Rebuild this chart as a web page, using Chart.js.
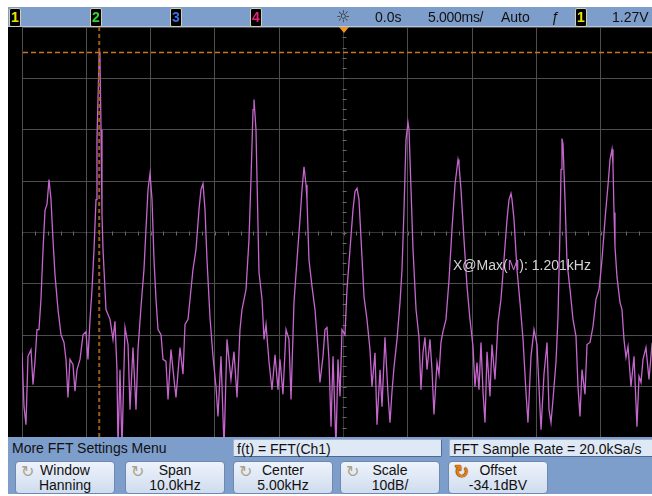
<!DOCTYPE html>
<html>
<head>
<meta charset="utf-8">
<script src="https://cdn.jsdelivr.net/npm/chart.js@4.4.1/dist/chart.umd.min.js"></script>
<style>
    body { margin: 0; background: #fff; }
    #scope { position: relative; width: 652px; height: 496px; overflow: hidden; background: #fff;
        font-family: "Liberation Sans", Arial, sans-serif; color: #111; }
    #topbar { position: absolute; left: 8px; top: 7px; width: 644px; height: 19px; background: #7d9dcb;
        border-bottom: 1px solid #b4c6e2; z-index: 3; }
    #screen { position: absolute; left: 8px; top: 27px; width: 644px; height: 410px; background: #000; }
    #plot { position: absolute; left: 12px; top: 17px; width: 663px; height: 431px; z-index: 1; }
    #menu { position: absolute; left: 8px; top: 437px; width: 644px; height: 57px; background: #7d9dcb; z-index: 3; }
    .tb { position: absolute; top: 7px; height: 20px; line-height: 20px; font-size: 14px; color: #111; z-index: 4; white-space: nowrap; }
    .chan { position: absolute; top: 8px; width: 10px; height: 17px; background: #000; border: 1px solid #cfcfb8;
        border-radius: 2px; font: bold 14px/17px "Liberation Sans", Arial, sans-serif; text-align: center; z-index: 4; }
    #trig { position: absolute; left: 339px; top: 27px; width: 0; height: 0; border-left: 5px solid transparent;
        border-right: 5px solid transparent; border-top: 6px solid #f0921e; z-index: 4; }
    #readout { position: absolute; left: 453px; top: 257px; font-size: 14px; color: #d4d4d4; z-index: 2; white-space: nowrap; }
    #readout span { color: #c46ccf; }
    .row { position: absolute; top: 439px; height: 18px; line-height: 18px; font-size: 14px; z-index: 4; white-space: nowrap; }
    .field { background: #dfe8f5; border: 1px solid #9fb2cf; border-right-color: #4f6891; border-bottom-color: #4f6891;
        border-radius: 2px; padding-left: 3px; box-sizing: border-box; }
    .key { position: absolute; top: 461px; width: 100px; height: 33px; box-sizing: border-box; z-index: 4;
        background: linear-gradient(#eef3fb, #cfdcef); border: 1px solid #6f88b0; border-radius: 4px;
        text-align: center; font-size: 14px; line-height: 15px; padding-top: 1px; }
    .key .ico { position: absolute; left: 5px; top: 0; font: 16px "DejaVu Sans", sans-serif; color: #aaa286; }
    .key .ico.on { font-weight: bold; font-size: 18px; color: #ec7d08; top: -1px;
        text-shadow: 0 0 1px #5a3000, 0 0 1px #5a3000; }
</style>
</head>
<body>
<div id="scope">
    <div id="topbar"></div>
    <div class="chan" style="left:9px;color:#e9e400;">1</div>
    <div class="chan" style="left:90px;color:#34d234;">2</div>
    <div class="chan" style="left:170px;color:#3b6fe6;">3</div>
    <div class="chan" style="left:250px;color:#e4207c;">4</div>
    <div class="tb" style="left:336px;font:16px/20px 'DejaVu Sans',sans-serif;color:#333;">☼</div>
    <div class="tb" style="left:375px;">0.0s</div>
    <div class="tb" style="left:428px;letter-spacing:-0.3px;">5.000ms/</div>
    <div class="tb" style="left:501px;">Auto</div>
    <div class="tb" style="left:551px;font-style:italic;">ƒ</div>
    <div class="chan" style="left:575px;color:#e9e400;">1</div>
    <div class="tb" style="left:612px;">1.27V</div>

    <div id="screen"></div>
    <div id="trig"></div>
    <div id="plot"><canvas id="fft"></canvas></div>
    <div id="readout"></div>

    <div id="menu"></div>
    <div class="row" style="left:12px;">More FFT Settings Menu</div>
    <div class="row field" style="left:233px;width:209px;">f(t) = FFT(Ch1)</div>
    <div class="row field" style="left:449px;width:220px;">FFT Sample Rate = 20.0kSa/s</div>

    <div class="key" style="left:15px;"><span class="ico">↻</span>Window<br>Hanning</div>
    <div class="key" style="left:125px;"><span class="ico">↻</span>Span<br>10.0kHz</div>
    <div class="key" style="left:233px;"><span class="ico">↻</span>Center<br>5.00kHz</div>
    <div class="key" style="left:340px;"><span class="ico">↻</span>Scale<br>10dB/</div>
    <div class="key" style="left:448px;"><span class="ico on">↻</span>Offset<br>-34.1dBV</div>
</div>
<script>
// FFT settings, as set on the softkeys
var centerKHz = 5.00;
var spanKHz = 10.0;
var scaleDB = 10;
var offsetDBV = -34.1;

// marker found by the X@Max measurement
var markerKHz = 1.201;

// spectrum trace: frequency (kHz) and magnitude (dBV)
var freqKHz = [
    0.000, 0.031, 0.062, 0.093, 0.140, 0.171, 0.202, 0.233, 0.264, 0.295,
    0.327, 0.358, 0.389, 0.420, 0.451, 0.482, 0.513, 0.560, 0.607, 0.653,
    0.684, 0.715, 0.746, 0.793, 0.824, 0.855, 0.902, 0.949, 0.995, 1.026,
    1.058, 1.089, 1.120, 1.151, 1.166, 1.201, 1.213, 1.229, 1.244, 1.260,
    1.306, 1.369, 1.415, 1.446, 1.477, 1.493, 1.524, 1.555, 1.602, 1.649,
    1.680, 1.726, 1.773, 1.804, 1.851, 1.897, 1.928, 1.960, 1.991, 2.022,
    2.053, 2.084, 2.115, 2.162, 2.193, 2.239, 2.271, 2.317, 2.364, 2.395,
    2.457, 2.504, 2.535, 2.582, 2.613, 2.659, 2.706, 2.753, 2.784, 2.815,
    2.846, 2.877, 2.924, 2.970, 3.017, 3.048, 3.095, 3.142, 3.188, 3.250,
    3.297, 3.344, 3.390, 3.421, 3.484, 3.530, 3.561, 3.593, 3.608, 3.639,
    3.655, 3.686, 3.733, 3.764, 3.795, 3.841, 3.888, 3.935, 3.981, 4.012,
    4.059, 4.106, 4.152, 4.184, 4.230, 4.277, 4.323, 4.355, 4.386, 4.417,
    4.432, 4.463, 4.510, 4.557, 4.603, 4.634, 4.681, 4.712, 4.743, 4.774,
    4.806, 4.837, 4.883, 4.914, 4.946, 4.977, 5.023, 5.054, 5.101, 5.148,
    5.179, 5.210, 5.241, 5.257, 5.288, 5.319, 5.365, 5.412, 5.443, 5.490,
    5.521, 5.568, 5.599, 5.645, 5.692, 5.723, 5.754, 5.785, 5.832, 5.879,
    5.910, 5.941, 5.972, 6.003, 6.019, 6.050, 6.081, 6.128, 6.174, 6.205,
    6.236, 6.267, 6.299, 6.345, 6.376, 6.407, 6.454, 6.485, 6.516, 6.547,
    6.594, 6.641, 6.687, 6.734, 6.781, 6.796, 6.827, 6.874, 6.921, 6.967,
    7.014, 7.045, 7.076, 7.107, 7.138, 7.170, 7.201, 7.232, 7.278, 7.309,
    7.356, 7.403, 7.449, 7.496, 7.543, 7.574, 7.605, 7.621, 7.652, 7.698,
    7.745, 7.792, 7.838, 7.869, 7.916, 7.963, 8.009, 8.040, 8.072, 8.118,
    8.165, 8.196, 8.227, 8.258, 8.305, 8.336, 8.367, 8.383, 8.398, 8.414,
    8.445, 8.476, 8.523, 8.569, 8.616, 8.647, 8.678, 8.709, 8.756, 8.787,
    8.834, 8.880, 8.927, 8.974, 9.020, 9.067, 9.114, 9.145, 9.176, 9.191,
    9.207, 9.222, 9.253, 9.300, 9.331, 9.362, 9.393, 9.425, 9.471, 9.518,
    9.564, 9.596, 9.627, 9.658, 9.704, 9.751, 9.798, 9.922
];
var magDBV = [
    -57.5, -68.0, -71.5, -58.2, -56.9, -63.7, -59.2, -53.0, -53.0, -47.1,
    -37.4, -29.8, -28.6, -23.8, -27.7, -35.5, -42.3, -49.1, -54.0, -55.5,
    -58.8, -66.2, -58.8, -59.8, -65.0, -60.8, -58.8, -54.0, -53.4, -58.8,
    -51.0, -45.2, -37.4, -27.7, -16.0, 1.1, -0.4, -14.1, -30.6, -37.4,
    -49.1, -51.0, -54.9, -51.4, -60.8, -76.0, -60.8, -76.0, -52.6, -55.9,
    -68.6, -56.5, -68.6, -56.9, -48.5, -41.3, -33.5, -25.7, -22.6, -27.7,
    -39.4, -47.1, -53.0, -54.0, -58.8, -59.2, -66.6, -56.9, -62.7, -66.2,
    -56.5, -61.7, -52.0, -51.0, -47.1, -41.3, -37.4, -29.6, -25.7, -24.6,
    -29.6, -39.4, -50.7, -58.2, -64.1, -69.9, -58.2, -76.0, -54.9, -62.7,
    -57.3, -66.2, -53.0, -49.1, -45.2, -35.5, -23.8, -10.2, -8.2, -14.1,
    -23.8, -41.9, -47.1, -54.9, -52.0, -59.2, -64.7, -57.9, -64.7, -58.8,
    -65.6, -53.0, -54.9, -66.6, -47.7, -39.4, -31.6, -25.7, -21.3, -24.8,
    -27.7, -39.4, -44.6, -49.1, -56.9, -63.3, -58.2, -53.0, -52.6, -58.8,
    -71.9, -58.2, -76.0, -58.8, -66.0, -53.0, -54.0, -45.2, -37.4, -29.6,
    -26.1, -25.5, -27.7, -31.6, -39.0, -46.6, -51.0, -56.9, -64.1, -57.5,
    -71.5, -60.8, -68.0, -54.5, -65.6, -71.1, -65.1, -60.4, -54.9, -47.7,
    -41.3, -29.6, -16.0, -12.7, -14.1, -25.7, -37.4, -49.1, -54.5, -64.7,
    -57.5, -54.5, -60.8, -54.9, -60.8, -69.5, -59.4, -61.7, -55.5, -53.4,
    -51.0, -43.3, -33.5, -24.8, -19.9, -20.9, -25.7, -35.5, -44.6, -51.0,
    -56.3, -64.1, -59.4, -64.7, -55.5, -65.2, -71.1, -57.3, -66.0, -55.9,
    -62.7, -51.6, -47.1, -39.4, -31.6, -27.7, -26.5, -27.7, -31.6, -41.3,
    -47.7, -54.9, -65.2, -71.1, -58.2, -53.0, -55.9, -64.1, -72.5, -61.7,
    -55.5, -68.6, -71.1, -66.6, -59.2, -50.5, -33.5, -21.8, -15.8, -17.0,
    -27.7, -39.9, -45.2, -51.0, -54.3, -64.1, -69.9, -60.8, -65.6, -55.9,
    -55.5, -52.4, -47.1, -45.2, -39.4, -31.6, -24.8, -19.9, -17.9, -20.9,
    -30.2, -36.8, -42.7, -47.7, -49.1, -54.9, -58.4, -56.3, -64.1, -58.2,
    -71.9, -62.1, -63.3, -58.8, -56.5, -62.7, -55.9, -58.8
];

// graticule: 10 divisions across the span, 8 divisions of scaleDB
var xMin = centerKHz - spanKHz / 2;
var xMax = centerKHz + spanKHz / 2;
var yMin = offsetDBV - 4 * scaleDB;
var yMax = offsetDBV + 4 * scaleDB;
var xGrid = [];
var yGrid = [];
for (var i = 0; i <= 10; i++) {
    xGrid.push(xMin + i * spanKHz / 10);
}
for (var j = -4; j <= 4; j++) {
    yGrid.push(offsetDBV + j * scaleDB);
}
var peakDBV = Math.max.apply(null, magDBV);

/**
 * Grid colour, the centre lines are drawn a bit darker.
 * @param {Number} value Tick value
 * @param {Number} centre Centre value of the axis
 * @return {String}
 */
function gridColor(value, centre) {
    return Math.abs(value - centre) < 1e-6 ? '#343434' : '#4e4e4e';
}

// minor ticks on the centre lines and the two dashed marker cursors
var scopeOverlay = {
    id: 'scopeOverlay',
    beforeDatasetsDraw: function(chart) {
        var ctx = chart.ctx;
        var xs = chart.scales.x;
        var ys = chart.scales.y;
        var cx = Math.round(xs.getPixelForValue(centerKHz)) + 0.5;
        var cy = Math.round(ys.getPixelForValue(offsetDBV)) + 0.5;
        var k, p;
        ctx.save();
        ctx.strokeStyle = '#6a6a6a';
        ctx.lineWidth = 1;
        ctx.beginPath();
        for (k = xMin; k <= xMax + 1e-6; k += spanKHz / 50) {
            p = Math.round(xs.getPixelForValue(k)) + 0.5;
            ctx.moveTo(p, cy - 2);
            ctx.lineTo(p, cy + 2);
        }
        for (k = yMin; k <= yMax + 1e-6; k += scaleDB / 5) {
            p = Math.round(ys.getPixelForValue(k)) + 0.5;
            ctx.moveTo(cx - 2, p);
            ctx.lineTo(cx + 2, p);
        }
        ctx.stroke();
        ctx.restore();
    },
    afterDatasetsDraw: function(chart) {
        var ctx = chart.ctx;
        var area = chart.chartArea;
        var mx = chart.scales.x.getPixelForValue(markerKHz);
        var my = Math.round(chart.scales.y.getPixelForValue(peakDBV)) + 0.5;
        ctx.save();
        ctx.lineWidth = 1.5;
        ctx.strokeStyle = '#c8741e';
        ctx.setLineDash([5, 3]);
        ctx.beginPath();
        ctx.moveTo(area.left + 1, my);
        ctx.lineTo(area.right, my);
        ctx.stroke();
        ctx.lineWidth = 2;
        ctx.strokeStyle = '#9c5c18';
        ctx.setLineDash([4, 3]);
        ctx.beginPath();
        ctx.moveTo(mx, area.top);
        ctx.lineTo(mx, area.bottom);
        ctx.stroke();
        ctx.restore();
    }
};

var points = freqKHz.map(function(f, n) {
    return {x: f, y: magDBV[n]};
});

new Chart(document.getElementById('fft'), {
    type: 'line',
    data: {
        datasets: [{
            data: points,
            borderColor: '#c466cc',
            borderWidth: 1.3,
            pointRadius: 0,
            tension: 0
        }]
    },
    options: {
        responsive: true,
        maintainAspectRatio: false,
        animation: false,
        events: [],
        layout: {padding: 10},
        plugins: {
            legend: {display: false},
            tooltip: {enabled: false}
        },
        scales: {
            x: {
                type: 'linear',
                min: xMin,
                max: xMax,
                afterBuildTicks: function(axis) {
                    axis.ticks = xGrid.map(function(v) {
                        return {value: v};
                    });
                },
                ticks: {display: false},
                border: {display: false},
                grid: {
                    drawTicks: false,
                    color: function(c) {
                        return gridColor(c.tick.value, centerKHz);
                    }
                }
            },
            y: {
                type: 'linear',
                min: yMin,
                max: yMax,
                afterBuildTicks: function(axis) {
                    axis.ticks = yGrid.map(function(v) {
                        return {value: v};
                    });
                },
                ticks: {display: false},
                border: {display: false},
                grid: {
                    drawTicks: false,
                    color: function(c) {
                        return gridColor(c.tick.value, offsetDBV);
                    }
                }
            }
        }
    },
    plugins: [scopeOverlay]
});

document.getElementById('readout').innerHTML =
    'X@Max(<span>M</span>): ' + markerKHz.toFixed(3) + 'kHz';
</script>
</body>
</html>
